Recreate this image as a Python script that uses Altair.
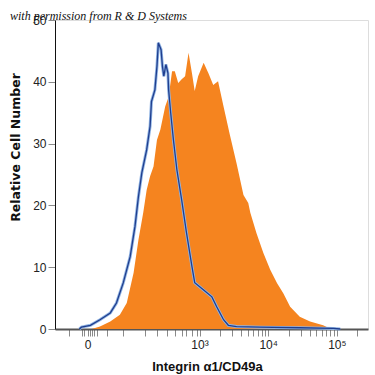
import altair as alt
import pandas as pd

# x values are in display units (decades of the biexponential axis)
orange_x = [1.43, 1.55, 1.70, 1.84, 1.94, 2.04, 2.11, 2.18, 2.23, 2.28, 2.33, 2.38, 2.43, 2.50,
            2.55, 2.60, 2.64, 2.69, 2.74, 2.79, 2.84, 2.89, 2.93, 2.98, 3.06, 3.13, 3.20, 3.27,
            3.35, 3.44, 3.54, 3.64, 3.71, 3.74, 3.83, 3.93, 4.03, 4.13, 4.22, 4.32, 4.46, 4.61,
            4.80, 4.90, 4.95]
orange_y = [0.0, 0.4, 1.2, 2.3, 4.2, 9.1, 14.4, 18.8, 22.5, 24.7, 26.3, 30.6, 32.3, 36.0,
            37.6, 41.7, 41.7, 39.8, 40.4, 40.9, 44.7, 41.4, 38.5, 40.9, 43.1, 41.4, 39.5, 40.1,
            36.0, 31.5, 26.8, 21.7, 20.4, 18.8, 15.5, 12.3, 9.6, 7.4, 5.8, 3.6, 2.0, 1.2,
            0.6, 0.1, 0.0]

blue_x = [1.25, 1.28, 1.41, 1.55, 1.70, 1.79, 1.89, 1.99, 2.06, 2.11, 2.16, 2.23, 2.28, 2.30,
          2.35, 2.38, 2.40, 2.44, 2.46, 2.48, 2.51, 2.54, 2.55, 2.58, 2.62, 2.67, 2.74, 2.81,
          2.89, 2.93, 3.06, 3.18, 3.25, 3.35, 3.42, 3.54, 3.88, 4.46, 4.95, 5.05]
blue_y = [0.0, 0.3, 0.6, 1.5, 2.6, 4.2, 7.5, 11.7, 16.6, 21.4, 25.3, 29.0, 32.8, 36.8,
          38.7, 42.5, 46.3, 45.2, 42.5, 40.9, 42.8, 41.4, 38.7, 35.0, 30.6, 25.8, 20.9, 15.6,
          10.1, 7.5, 6.3, 5.2, 3.6, 1.5, 0.6, 0.4, 0.3, 0.2, 0.1, 0.0]

x_ticks = [1.10, 1.29, 1.32, 1.37, 1.40, 1.43, 1.47, 1.51, 1.65, 1.88, 2.21, 2.38, 2.52, 2.64,
           2.74, 2.81, 2.89, 2.96, 3.0, 3.301, 3.477, 3.602, 3.699, 3.778, 3.845, 3.903, 3.954,
           4.0, 4.301, 4.477, 4.602, 4.699, 4.778, 4.845, 4.903, 4.954, 5.0, 5.301]
y_ticks = [0, 10, 20, 30, 40, 50]
note = ["with permission from R & D Systems"]

orange = pd.DataFrame({"x": orange_x, "y": orange_y})
blue = pd.DataFrame({"x": blue_x, "y": blue_y})
note_df = pd.DataFrame({"t": note})

label_expr = ("abs(datum.value - 1.37) < 0.001 ? '0' : abs(datum.value - 3) < 0.001 ? '10³' : "
              "abs(datum.value - 4) < 0.001 ? '10⁴' : abs(datum.value - 5) < 0.001 ? '10⁵' : ''")

xscale = alt.Scale(domain=[0.895, 5.454], nice=False, zero=False)
yscale = alt.Scale(domain=[0, 50], nice=False)

xaxis = alt.Axis(values=x_ticks, labelExpr=label_expr, title="Integrin α1/CD49a",
                 grid=False, domainColor="#555555", domainWidth=2, tickColor="#8a8a8a",
                 tickSize=7, labelFont="Liberation Sans", labelFontSize=12, labelColor="#222222",
                 labelPadding=3, labelOverlap=False, labelFlush=False, labelBound=False,
                 titleFont="Liberation Sans", titleFontSize=13, titleFontWeight="bold",
                 titleColor="#111111", titleX=152, titleY=37, titleBaseline="middle")
yaxis = alt.Axis(values=y_ticks, title="Relative Cell Number", grid=False,
                 domainColor="#111111", domainWidth=1, tickColor="#8a8a8a", tickSize=7,
                 labelFont="Liberation Sans", labelFontSize=12, labelColor="#222222",
                 labelPadding=2, titleFont="DejaVu Sans", titleFontSize=12.5,
                 titleFontWeight="bold", titleColor="#111111", titleX=-40, titleY=127,
                 titleBaseline="middle")

X = alt.X("x:Q", scale=xscale, axis=xaxis)
Y = alt.Y("y:Q", scale=yscale, axis=yaxis)

area = alt.Chart(orange).mark_area(color="#F5841F", opacity=1).encode(x=X, y=Y)
halo = alt.Chart(blue).mark_line(color="#8FB3E3", strokeWidth=3).encode(x=X, y=Y)
line = alt.Chart(blue).mark_line(color="#203E8E", strokeWidth=1.3).encode(x=X, y=Y)
text = alt.Chart(note_df).mark_text(
    align="left", baseline="middle", font="Liberation Serif", fontStyle="italic",
    fontSize=12, color="#111111"
).encode(x=alt.value(-45), y=alt.value(-4), text="t:N")

chart = alt.layer(area, halo, line, text).properties(
    width=313, height=309,
    autosize=alt.AutoSizeParams(type="none"),
    padding={"left": 55, "top": 20, "right": 7, "bottom": 46},
).configure_view(stroke=None).configure(background="white")

chart.save("out.html", embed_options={"renderer": "svg", "actions": False})
